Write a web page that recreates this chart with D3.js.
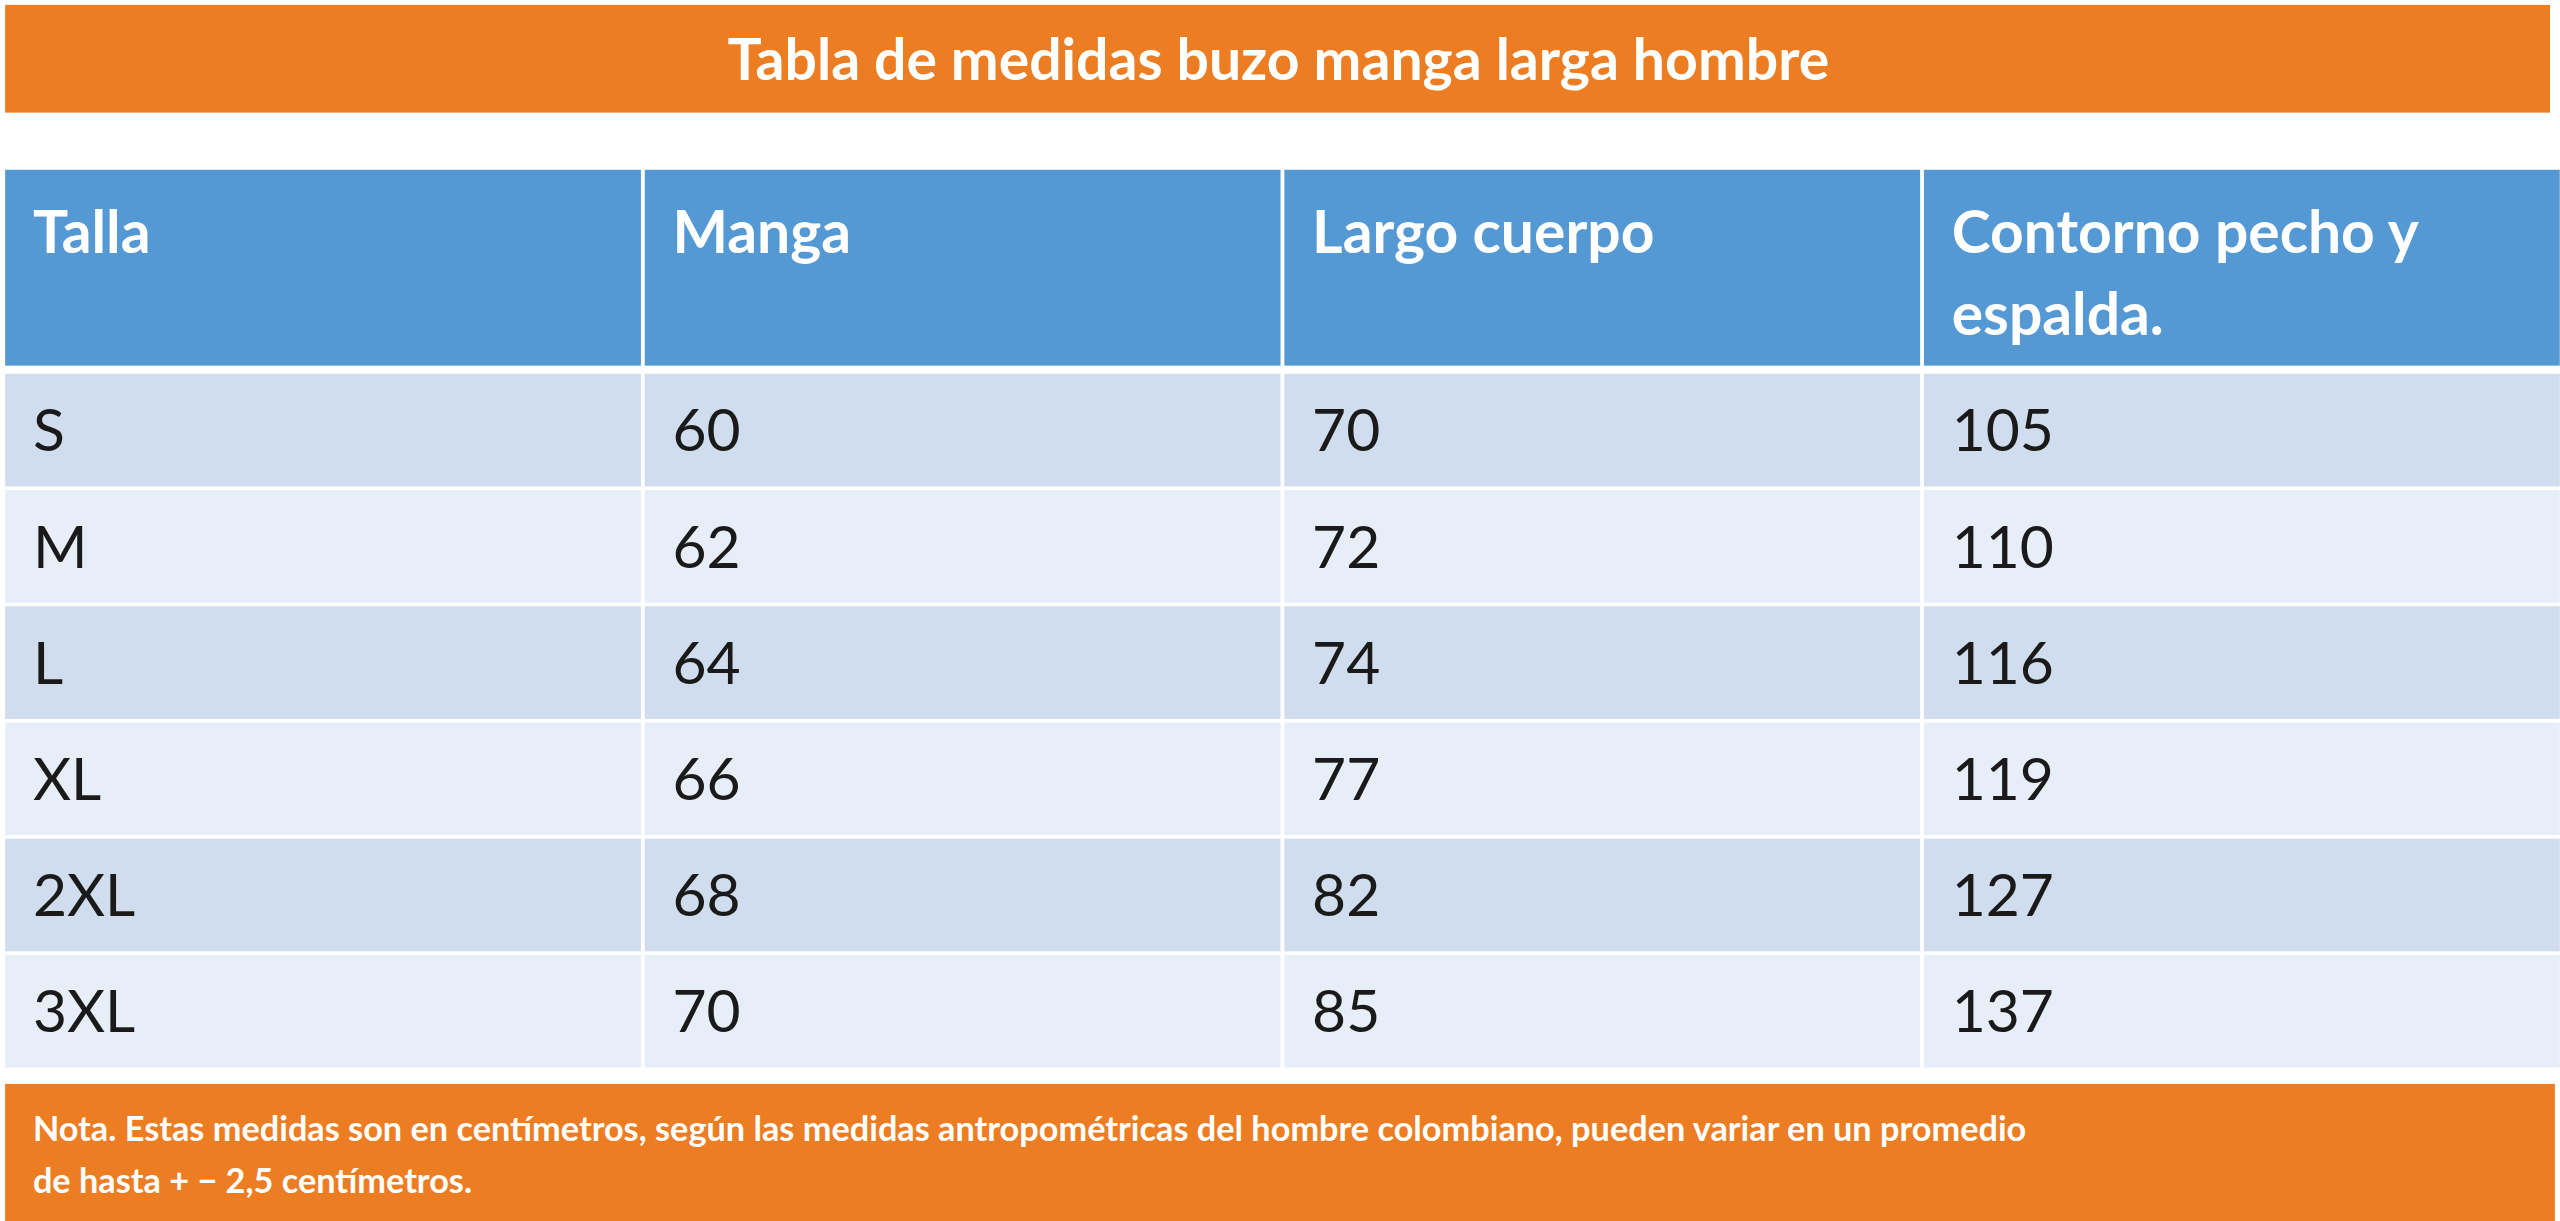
<!DOCTYPE html>
<html><head><meta charset="utf-8">
<script src="https://cdn.jsdelivr.net/npm/d3@7"></script>
<style>body{margin:0;background:#fff}svg{display:block}</style>
</head><body><svg id="c"></svg>
<script>
const title = "Tabla de medidas buzo manga larga hombre";
const columns = ["Talla","Manga","Largo cuerpo","Contorno pecho y\nespalda."];
const tallas = ["S","M","L","XL","2XL","3XL"];
const manga = [60,62,64,66,68,70];
const largo = [70,72,74,77,82,85];
const contorno = [105,110,116,119,127,137];
const nota = ["Nota. Estas medidas son en centímetros, según las medidas antropométricas del hombre colombiano,  pueden variar en un promedio","de hasta + − 2,5 centímetros."];

const rows = tallas.map((t,i)=>[t,manga[i],largo[i],contorno[i]]);
const W=1568,H=748;
const svg=d3.select("#c").attr("width",2560).attr("height",1221).attr("viewBox",`0 0 ${W} ${H}`);
const F="Lato, 'Open Sans', sans-serif";
const orange="#ED7D22";

svg.append("rect").attr("x",3).attr("y",3).attr("width",1559).attr("height",66).attr("fill",orange);
svg.append("text").attr("x",783).attr("y",49).attr("text-anchor","middle").attr("fill","#fff")
  .attr("font-family",F).attr("font-weight","bold").attr("font-size",35).text(title);

const x=d3.scaleBand().domain(d3.range(4)).range([3,1568]).paddingInner(0.006);
const y=d3.scaleBand().domain(d3.range(6)).range([229,654]).paddingInner(0.03);

svg.selectAll(".h").data(columns).join("rect").attr("x",(d,i)=>x(i)).attr("y",104)
  .attr("width",x.bandwidth()).attr("height",120).attr("fill","#5499D3");
svg.selectAll(".ht").data(columns).join("text").attr("fill","#fff").attr("font-family",F)
  .attr("font-weight","bold").attr("font-size",36)
  .each(function(d,i){
    const t=d3.select(this);
    d.split("\n").forEach((l,k)=>t.append("tspan").attr("x",x(i)+17).attr("y",155+k*50).text(l));
  });

const g=svg.selectAll(".r").data(rows).join("g");
g.each(function(r,ri){
  const gg=d3.select(this);
  r.forEach((v,ci)=>{
    gg.append("rect").attr("x",x(ci)).attr("y",y(ri)).attr("width",x.bandwidth()).attr("height",y.bandwidth())
      .attr("fill",ri%2?"#E8EEF8":"#D0DDEE");
    gg.append("text").attr("x",x(ci)+17).attr("y",y(ri)+y.bandwidth()/2+13).attr("fill","#1a1a1a")
      .attr("font-family",F).attr("font-size",36).text(v);
  });
});

svg.append("rect").attr("x",3).attr("y",664).attr("width",1562).attr("height",84).attr("fill",orange);
svg.selectAll(".n").data(nota).join("text").attr("x",20).attr("y",(d,i)=>699+i*32).attr("fill","#fff")
  .attr("font-family",F).attr("font-weight","bold").attr("font-size",21).text(d=>d);
</script></body></html>
